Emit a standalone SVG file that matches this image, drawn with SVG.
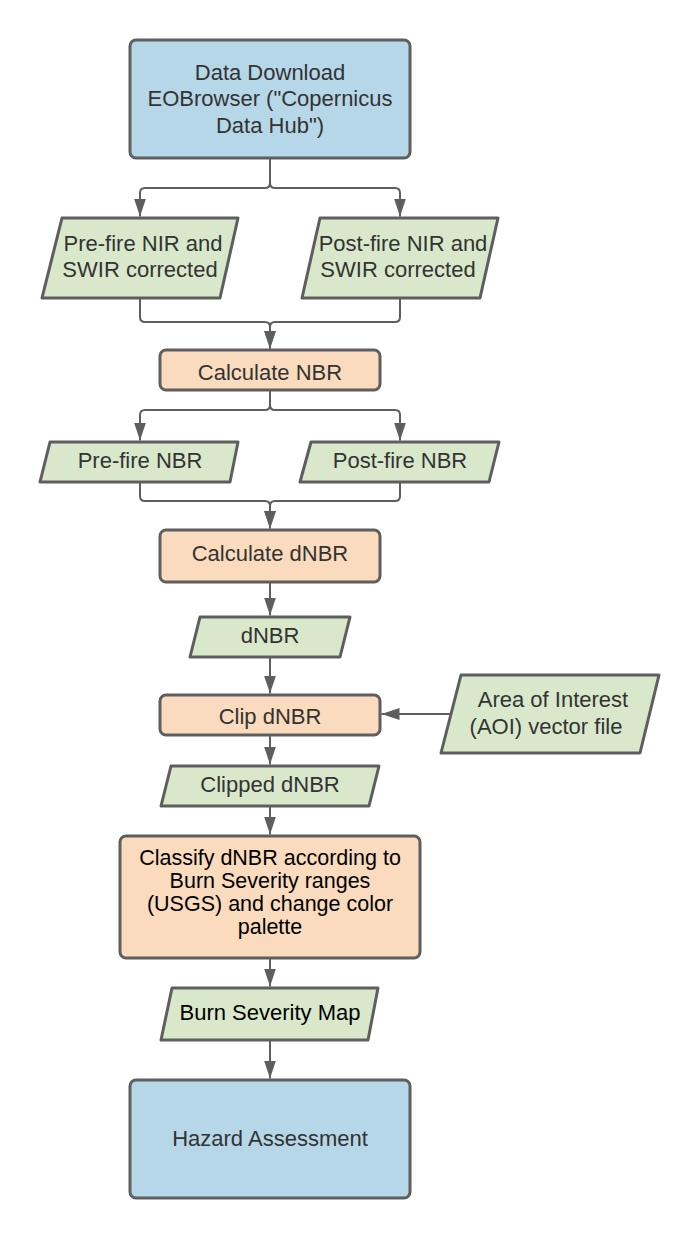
<svg xmlns="http://www.w3.org/2000/svg" width="700" height="1239" viewBox="0 0 700 1239">
<defs>
<marker id="arr" markerUnits="userSpaceOnUse" markerWidth="20" markerHeight="14" refX="18" refY="6" orient="auto">
<path d="M0,0 L18,6 L0,12 z" fill="#5e5e5e"/>
</marker>
<style>
.blue{fill:#b6d7e8;stroke:#5e5e5e;stroke-width:3}
.orange{fill:#fadbbd;stroke:#5e5e5e;stroke-width:3}
.green{fill:#d9e8cb;stroke:#5e5e5e;stroke-width:3;stroke-linejoin:round}
.t{font-family:"Liberation Sans",Arial,sans-serif;font-size:22px;fill:#333333;text-anchor:middle;dominant-baseline:central}
.k{fill:#000000;font-size:21.5px}
.c{fill:none;stroke:#5e5e5e;stroke-width:2;marker-end:url(#arr)}
</style>
</defs>
<rect width="700" height="1239" fill="#ffffff"/>
<g id="connectors">
<path class="c" d="M270,158 V183 Q270,188 265,188 H145 Q140,188 140,193 V216.5"/>
<path class="c" d="M270,158 V183 Q270,188 275,188 H395 Q400,188 400,193 V216.5"/>
<path class="c" d="M140,298 V317 Q140,322 145,322 H265 Q270,322 270,327 V348.5"/>
<path class="c" d="M400,298 V317 Q400,322 395,322 H275 Q270,322 270,327 V348.5"/>
<path class="c" d="M270,390 V405 Q270,410 265,410 H145 Q140,410 140,415 V440.5"/>
<path class="c" d="M270,390 V405 Q270,410 275,410 H395 Q400,410 400,415 V440.5"/>
<path class="c" d="M140,482 V496 Q140,501 145,501 H265 Q270,501 270,506 V528.5"/>
<path class="c" d="M400,482 V496 Q400,501 395,501 H275 Q270,501 270,506 V528.5"/>
<path class="c" d="M270,582 V615.5"/>
<path class="c" d="M270,657 V693.5"/>
<path class="c" d="M451,714 H381.5"/>
<path class="c" d="M270,735 V764.5"/>
<path class="c" d="M270,806 V834.5"/>
<path class="c" d="M270,958 V986.5"/>
<path class="c" d="M270,1040 V1078.5"/>
</g>
<g id="n1">
<rect class="blue" x="130" y="40" width="280" height="118" rx="6"/>
<text class="t" x="270" y="72">Data Download</text>
<text class="t" x="270" y="98">EOBrowser ("Copernicus</text>
<text class="t" x="270" y="125">Data Hub")</text>
</g>
<g id="n2">
<path class="green" d="M62,218 H238 L220,298 H42 Z"/>
<text class="t" x="143" y="243">Pre-fire NIR and</text>
<text class="t" x="140" y="269">SWIR corrected</text>
</g>
<g id="n3">
<path class="green" d="M320,218 H498 L480,298 H302 Z"/>
<text class="t" x="403" y="243">Post-fire NIR and</text>
<text class="t" x="398" y="269">SWIR corrected</text>
</g>
<g id="n4">
<rect class="orange" x="160" y="350" width="220" height="40" rx="6"/>
<text class="t" x="270" y="372">Calculate NBR</text>
</g>
<g id="n5">
<path class="green" d="M50,442 H238 L230,482 H40 Z"/>
<text class="t" x="140" y="460">Pre-fire NBR</text>
</g>
<g id="n6">
<path class="green" d="M311,442 H499 L489,482 H300 Z"/>
<text class="t" x="400" y="460">Post-fire NBR</text>
</g>
<g id="n7">
<rect class="orange" x="160" y="530" width="220" height="52" rx="6"/>
<text class="t" x="270" y="553">Calculate dNBR</text>
</g>
<g id="n8">
<path class="green" d="M200,617 H350 L340,657 H190 Z"/>
<text class="t" x="270" y="635">dNBR</text>
</g>
<g id="n9">
<rect class="orange" x="160" y="695" width="220" height="40" rx="6"/>
<text class="t" x="270" y="716">Clip dNBR</text>
</g>
<g id="n10">
<path class="green" d="M461,675 H659 L640,753 H441 Z"/>
<text class="t" x="553" y="699">Area of Interest</text>
<text class="t" x="546" y="726">(AOI) vector file</text>
</g>
<g id="n11">
<path class="green" d="M171,766 H379 L369,806 H161 Z"/>
<text class="t" x="270" y="784">Clipped dNBR</text>
</g>
<g id="n12">
<rect class="orange" x="120" y="836" width="300" height="122" rx="6"/>
<text class="t k" x="270" y="858">Classify dNBR according to</text>
<text class="t k" x="270" y="881">Burn Severity ranges</text>
<text class="t k" x="270" y="904">(USGS) and change color</text>
<text class="t k" x="270" y="927">palette</text>
</g>
<g id="n13">
<path class="green" d="M172,988 H378 L368,1040 H161 Z"/>
<text class="t k" x="270" y="1012" style="font-size:22px">Burn Severity Map</text>
</g>
<g id="n14">
<rect class="blue" x="130" y="1080" width="280" height="118" rx="6"/>
<text class="t" x="270" y="1138">Hazard Assessment</text>
</g>
</svg>
